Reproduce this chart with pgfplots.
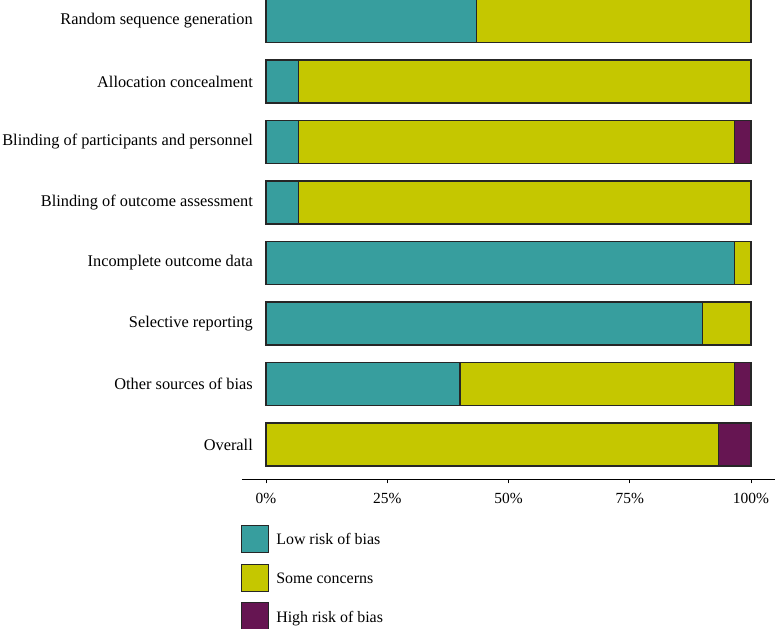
\documentclass[border=0pt]{standalone}
\usepackage{pgfplots}
\pgfplotsset{compat=1.18}
\usepackage{fontspec}
\setmainfont{Liberation Serif}
\definecolor{lowc}{HTML}{379E9E}
\definecolor{somec}{HTML}{C5C700}
\definecolor{highc}{HTML}{661552}
\begin{document}
\begin{tikzpicture}
\begin{axis}[name=ax,
  scale only axis, width=533bp, height=479.3bp,
  xbar stacked, bar width=0.71,
  xmin=-4.95, xmax=104.95, ymin=-0.575, ymax=7.347,
  clip=false,
  axis x line*=bottom, axis y line*=left,
  y axis line style={draw=none},
  x axis line style={line width=1.1bp, -},
  xtick={0,25,50,75,100},
  xticklabels={0\%,25\%,50\%,75\%,100\%},
  tick align=outside, major tick length=4bp,
  xtick style={black, line width=0.8bp},
  ytick={0,...,7}, ytick style={draw=none},
  yticklabels={Overall, Other sources of bias, Selective reporting, Incomplete outcome data, Blinding of outcome assessment, Blinding of participants and personnel, Allocation concealment, Random sequence generation},
  yticklabel style={anchor=east, inner sep=0pt, xshift=15bp, font=\fontsize{16.4}{18}\selectfont},
  xticklabel style={font=\fontsize{15.5}{17}\selectfont, yshift=-6bp},
  every axis plot/.append style={draw=black!85, line width=1.1bp},
  legend style={at={(0,0)}, anchor=north west, xshift=-1bp, yshift=-45.7bp, draw=none, fill=none, inner sep=0pt, row sep=10.5bp, font=\fontsize{16}{18}\selectfont, nodes={inner sep=0pt, text depth=0pt}},
  legend cell align=left,
  legend image code/.code={\draw[#1, draw=black!85, line width=1.1bp] (0bp,-13.5bp) rectangle (27bp,13.5bp);},
  legend columns=1,
]
\addplot[fill=lowc] coordinates {(0,0) (40,1) (90,2) (96.67,3) (6.67,4) (6.67,5) (6.67,6) (43.33,7)};
\addplot[fill=somec] coordinates {(93.33,0) (56.67,1) (10,2) (3.33,3) (93.33,4) (90,5) (93.33,6) (56.67,7)};
\addplot[fill=highc] coordinates {(6.67,0) (3.33,1) (0,2) (0,3) (0,4) (3.33,5) (0,6) (0,7)};
\legend{\hspace{7bp}Low risk of bias, \hspace{7bp}Some concerns, \hspace{7bp}High risk of bias}
\end{axis}
\pgfresetboundingbox
\path[use as bounding box] ([xshift=-242bp,yshift=-149.7bp]ax.south west) rectangle (ax.north east);
\end{tikzpicture}
\end{document}
